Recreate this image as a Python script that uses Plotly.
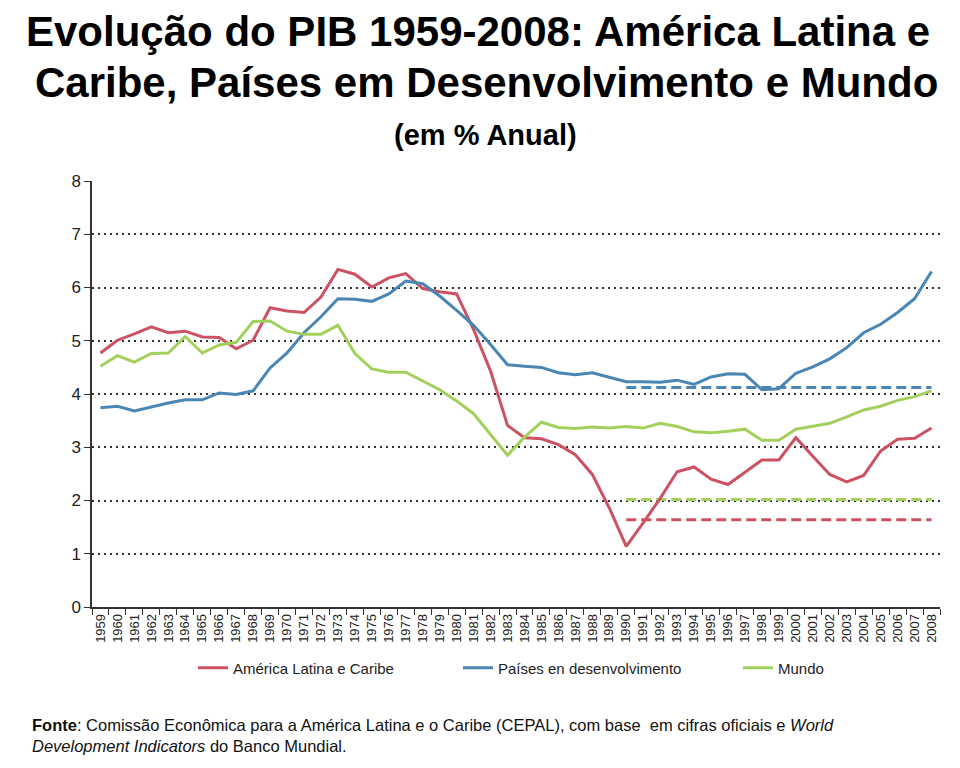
import plotly.graph_objects as go

years = list(range(1959, 2009))

america_latina = [4.77, 5.01, 5.13, 5.26, 5.15, 5.18, 5.07, 5.06, 4.85, 5.01,
                  5.62, 5.56, 5.53, 5.82, 6.34, 6.25, 6.01, 6.18, 6.26, 5.98,
                  5.92, 5.88, 5.21, 4.43, 3.41, 3.18, 3.16, 3.05, 2.86, 2.49,
                  1.86, 1.14, 1.58, 2.04, 2.54, 2.63, 2.40, 2.30, 2.53, 2.76,
                  2.76, 3.18, 2.83, 2.49, 2.35, 2.47, 2.93, 3.15, 3.17, 3.36]

paises_desenv = [3.74, 3.77, 3.68, 3.76, 3.83, 3.89, 3.89, 4.02, 3.99, 4.06,
                 4.49, 4.77, 5.15, 5.45, 5.79, 5.78, 5.74, 5.88, 6.12, 6.07,
                 5.84, 5.57, 5.29, 4.93, 4.55, 4.52, 4.50, 4.40, 4.36, 4.40,
                 4.32, 4.23, 4.23, 4.22, 4.26, 4.18, 4.32, 4.38, 4.37, 4.08,
                 4.10, 4.39, 4.51, 4.66, 4.87, 5.15, 5.31, 5.53, 5.79, 6.30]

mundo = [4.52, 4.72, 4.60, 4.76, 4.77, 5.08, 4.77, 4.92, 4.97, 5.36,
         5.37, 5.18, 5.12, 5.12, 5.29, 4.76, 4.47, 4.41, 4.41, 4.25,
         4.08, 3.87, 3.63, 3.24, 2.85, 3.19, 3.47, 3.37, 3.35, 3.38,
         3.36, 3.39, 3.36, 3.45, 3.39, 3.29, 3.27, 3.30, 3.34, 3.13,
         3.13, 3.34, 3.40, 3.45, 3.57, 3.70, 3.77, 3.88, 3.95, 4.06]

avg_years = list(range(1990, 2009))
avg_america_latina = [1.64] * len(avg_years)
avg_paises_desenv = [4.12] * len(avg_years)
avg_mundo = [2.02] * len(avg_years)

legend_names = ["América Latina e Caribe", "Países en desenvolvimento", "Mundo"]
y_ticks = list(range(0, 9))

RED = "#cc5263"
BLUE = "#4a86b4"
GREEN = "#a3d05c"
FONT = "Liberation Sans, Arial, sans-serif"

fig = go.Figure()

fig.add_trace(go.Scatter(x=avg_years, y=avg_america_latina, mode="lines",
                         line=dict(color=RED, width=3, dash="10px,5px"),
                         showlegend=False, hoverinfo="skip"))
fig.add_trace(go.Scatter(x=avg_years, y=avg_paises_desenv, mode="lines",
                         line=dict(color=BLUE, width=3, dash="10px,5px"),
                         showlegend=False, hoverinfo="skip"))
fig.add_trace(go.Scatter(x=avg_years, y=avg_mundo, mode="lines",
                         line=dict(color=GREEN, width=3, dash="10px,5px"),
                         showlegend=False, hoverinfo="skip"))

fig.add_trace(go.Scatter(x=years, y=america_latina, mode="lines", name=legend_names[0],
                         line=dict(color=RED, width=3), legend="legend"))
fig.add_trace(go.Scatter(x=years, y=paises_desenv, mode="lines", name=legend_names[1],
                         line=dict(color=BLUE, width=3), legend="legend2"))
fig.add_trace(go.Scatter(x=years, y=mundo, mode="lines", name=legend_names[2],
                         line=dict(color=GREEN, width=3), legend="legend3"))

# page pixel -> paper coordinates (page has an 8px body margin)
def px_x(p):
    return (p - 92) / 848.0

def px_y(p):
    return (607 - p) / 426.0

leg_common = dict(orientation="h", yanchor="middle", y=px_y(668), xanchor="left",
                  font=dict(family=FONT, size=15, color="#222"),
                  bgcolor="rgba(0,0,0,0)", itemwidth=30)

fig.update_layout(
    width=952, height=760,
    margin=dict(l=84, r=20, t=173, b=161),
    paper_bgcolor="#ffffff", plot_bgcolor="#ffffff",
    font=dict(family=FONT, color="#222"),
    legend=dict(x=px_x(193), **leg_common),
    legend2=dict(x=px_x(458), **leg_common),
    legend3=dict(x=px_x(738), **leg_common),
    xaxis=dict(
        range=[1958.5, 2008.5], tickmode="array", tickvals=years,
        ticktext=[str(y) for y in years], tickangle=-90,
        tickfont=dict(family=FONT, size=13, color="#222"),
        ticks="", showgrid=False, zeroline=False,
        showline=True, linecolor="#333", linewidth=1.5,
        minor=dict(tickmode="linear", tick0=1958.5, dtick=1, ticks="outside",
                   ticklen=6, tickcolor="#333", tickwidth=1, showgrid=False),
    ),
    yaxis=dict(
        range=[0, 8], tickmode="array", tickvals=y_ticks,
        tickfont=dict(family=FONT, size=17, color="#222"),
        ticks="outside", ticklen=6, tickcolor="#333", tickwidth=1,
        showline=True, linecolor="#333", linewidth=1.5,
        showgrid=True, gridcolor="#333", gridwidth=1.5, griddash="2px,4px",
        zeroline=False,
    ),
)

annotations = [
    dict(text="<b>Evolução do PIB 1959-2008: América Latina e</b>", x=478, y=32,
         font=dict(size=42, family=FONT, color="#000")),
    dict(text="<b>Caribe, Países em Desenvolvimento e Mundo</b>", x=486, y=82,
         font=dict(size=42, family=FONT, color="#000")),
    dict(text="<b>(em % Anual)</b>", x=485, y=135,
         font=dict(size=29, family=FONT, color="#000")),
]
for a in annotations:
    fig.add_annotation(text=a["text"], xref="paper", yref="paper",
                       x=px_x(a["x"]), y=px_y(a["y"]),
                       xanchor="center", yanchor="middle", showarrow=False,
                       font=a["font"])

fig.add_annotation(
    text=("<b>Fonte</b>: Comissão Econômica para a América Latina e o Caribe (CEPAL), com base  em cifras oficiais e <i>World</i><br>"
          "<i>Development Indicators</i> do Banco Mundial."),
    xref="paper", yref="paper", x=px_x(30), y=px_y(714),
    xanchor="left", yanchor="top", align="left", showarrow=False,
    font=dict(size=16.5, family=FONT, color="#111"))

fig.write_html("out.html")
